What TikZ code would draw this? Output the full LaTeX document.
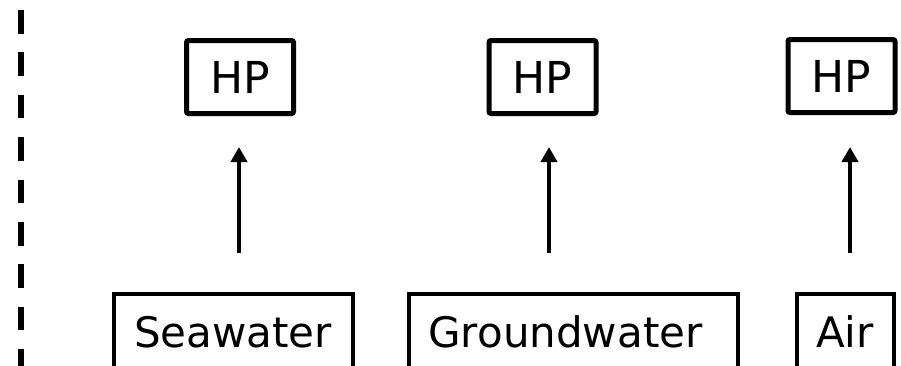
\documentclass[tikz,border=0pt]{standalone}
\usepackage{fontspec}
\setmainfont{DejaVu Sans}
\usetikzlibrary{arrows.meta}

\tikzset{
  pump/.style={draw, line width=5pt, rounded corners=2pt, minimum width=107pt,
    minimum height=73pt, inner sep=0pt, font=\fontsize{44}{52}\selectfont},
  source/.style={draw, line width=4pt, minimum height=76pt, inner sep=0pt,
    font=\fontsize{42}{50}\selectfont},
  flow/.style={line width=4pt, -{Triangle[length=15pt,width=16pt]}},
  boundary/.style={line width=5.5pt, dash pattern=on 23.5pt off 18.9pt}
}

\begin{document}
\begin{tikzpicture}[x=1pt, y=-1pt]
  \useasboundingbox (0,0) rectangle (901,365);
  \clip (0,0) rectangle (901,365);

  % system boundary
  \coordinate (bTop) at (21,10);
  \coordinate (bBot) at (21,380);
  \draw[boundary] (bTop) -- (bBot);

  % heat pumps
  \node[pump] (hp1) at (240,77) {HP};
  \node[pump] (hp2) at (542.5,77) {HP};
  \node[pump] (hp3) at (841.5,76) {HP};

  % heat sources
  \node[source, minimum width=239pt] (sea) at (233,332) {Seawater};
  \node[source, minimum width=329pt] (ground) at (573,332) {Groundwater\hspace*{15pt}};
  \node[source, minimum width=97pt] (air) at (845,332) {Air};

  % heat flows from sources to pumps
  \coordinate (f1s) at (239,253);  \coordinate (f1e) at (239,147);
  \coordinate (f2s) at (549,253);  \coordinate (f2e) at (549,147);
  \coordinate (f3s) at (850,253);  \coordinate (f3e) at (850,147);
  \draw[flow] (f1s) -- (f1e);
  \draw[flow] (f2s) -- (f2e);
  \draw[flow] (f3s) -- (f3e);
\end{tikzpicture}
\end{document}
